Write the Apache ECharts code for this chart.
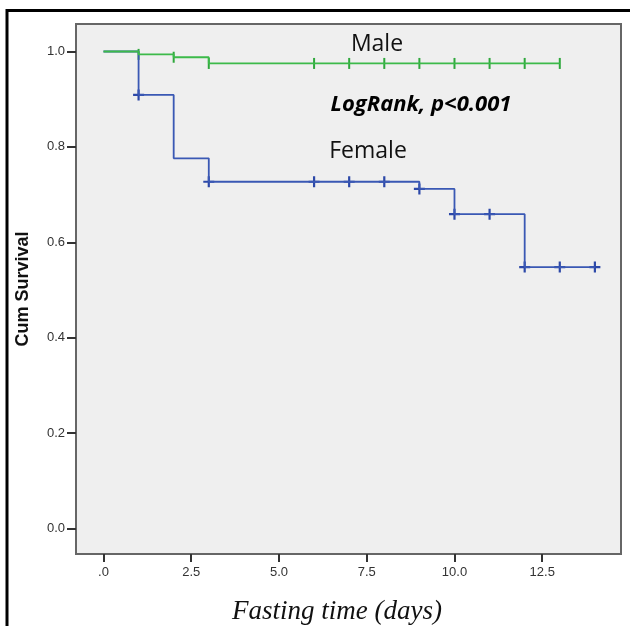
<!DOCTYPE html>
<html>
<head>
<meta charset="utf-8">
<script src="https://cdn.jsdelivr.net/npm/echarts@6/dist/echarts.min.js"></script>
<style>
  html, body { margin: 0; padding: 0; background: #fff; }
  #chart { width: 630px; height: 626px; }
</style>
</head>
<body>
<div id="chart"></div>
<script>
// Kaplan-Meier step points (time in days, cumulative survival)
const maleTimes = [0, 1, 2, 3, 13]
const maleSurv = [1.0, 0.994, 0.988, 0.975, 0.975]
const femaleTimes = [0, 1, 2, 3, 9, 10, 12, 14]
const femaleSurv = [1.0, 0.909, 0.776, 0.727, 0.712, 0.659, 0.548, 0.548]
// censored observations
const maleCensor = [1, 2, 3, 6, 7, 8, 9, 10, 11, 12, 13]
const femaleCensor = [1, 3, 6, 7, 8, 9, 10, 11, 12, 13, 14]
// tick labels
const xTicks = [0, 2.5, 5, 7.5, 10, 12.5]
const yTicks = [0, 0.2, 0.4, 0.6, 0.8, 1.0]

const green = '#3cba4a'
const blue = '#3a58b4'

function stepValue(times, surv, t) {
  let v = surv[0]
  for (let i = 0; i < times.length; i++) {
    if (times[i] <= t) v = surv[i]
  }
  return v
}

function pairs(times, surv) {
  return times.map((t, i) => [t, surv[i]])
}

const plusPath = 'path://M4,0h2v4h4v2h-4v4h-2v-4h-4v-2h4z'

const chart = echarts.init(document.getElementById('chart'))
chart.setOption({
  animation: false,
  grid: {
    left: 76,
    top: 24,
    width: 545,
    height: 530,
    show: true,
    backgroundColor: '#efefef',
    borderColor: '#666',
    borderWidth: 2
  },
  xAxis: {
    type: 'value',
    min: -0.783,
    max: 14.744,
    axisLine: { show: false, onZero: false },
    splitLine: { show: false },
    axisTick: {
      show: true,
      length: 8,
      customValues: xTicks,
      lineStyle: { color: '#333', width: 2 }
    },
    axisLabel: {
      customValues: xTicks,
      margin: 12,
      color: '#333',
      fontFamily: 'Liberation Sans',
      fontSize: 13,
      formatter: function(v) {
        return v === 0 ? '.0' : v.toFixed(1)
      }
    }
  },
  yAxis: {
    type: 'value',
    min: -0.0535,
    max: 1.0577,
    name: 'Cum Survival',
    nameLocation: 'middle',
    nameGap: 44,
    nameTextStyle: {
      fontFamily: 'Liberation Sans',
      fontWeight: 'bold',
      fontSize: 18,
      color: '#111'
    },
    axisLine: { show: false, onZero: false },
    splitLine: { show: false },
    axisTick: {
      show: true,
      length: 9,
      customValues: yTicks,
      lineStyle: { color: '#333', width: 2 }
    },
    axisLabel: {
      customValues: yTicks,
      margin: 11,
      color: '#333',
      fontFamily: 'Liberation Sans',
      fontSize: 13,
      formatter: function(v) {
        return v.toFixed(1)
      }
    }
  },
  series: [
    {
      name: 'Female',
      type: 'line',
      step: 'end',
      data: pairs(femaleTimes, femaleSurv),
      showSymbol: false,
      lineStyle: { color: blue, width: 1.8 }
    },
    {
      name: 'Male',
      type: 'line',
      step: 'end',
      data: pairs(maleTimes, maleSurv),
      showSymbol: false,
      lineStyle: { color: green, width: 1.8 }
    },
    {
      name: 'Female-censored',
      type: 'scatter',
      data: femaleCensor.map(t => [t, stepValue(femaleTimes, femaleSurv, t)]),
      symbol: plusPath,
      symbolSize: 11,
      itemStyle: { color: '#2c48a8', opacity: 1 }
    },
    {
      name: 'Male-censored',
      type: 'scatter',
      data: maleCensor.map(t => [t, stepValue(maleTimes, maleSurv, t)]),
      symbol: 'rect',
      symbolSize: [2, 11],
      itemStyle: { color: '#2fa83c', opacity: 1 }
    }
  ],
  graphic: [
    {
      type: 'polyline',
      shape: { points: [[7, 626], [7, 10.5], [630, 10.5]] },
      style: { stroke: '#000', lineWidth: 3, fill: null }
    },
    {
      type: 'text',
      x: 377,
      y: 44,
      style: {
        text: 'Male',
        font: '23px "Open Sans"',
        fill: '#111',
        align: 'center',
        verticalAlign: 'middle'
      }
    },
    {
      type: 'text',
      x: 421,
      y: 105,
      style: {
        text: 'LogRank, p<0.001',
        font: 'italic bold 22px "Open Sans"',
        fill: '#000',
        align: 'center',
        verticalAlign: 'middle'
      }
    },
    {
      type: 'text',
      x: 368,
      y: 151,
      style: {
        text: 'Female',
        font: '23px "Open Sans"',
        fill: '#111',
        align: 'center',
        verticalAlign: 'middle'
      }
    },
    {
      type: 'text',
      x: 337,
      y: 612,
      style: {
        text: 'Fasting time (days)',
        font: 'italic 27px "Liberation Serif"',
        fill: '#111',
        align: 'center',
        verticalAlign: 'middle'
      }
    }
  ]
})
</script>
</body>
</html>
